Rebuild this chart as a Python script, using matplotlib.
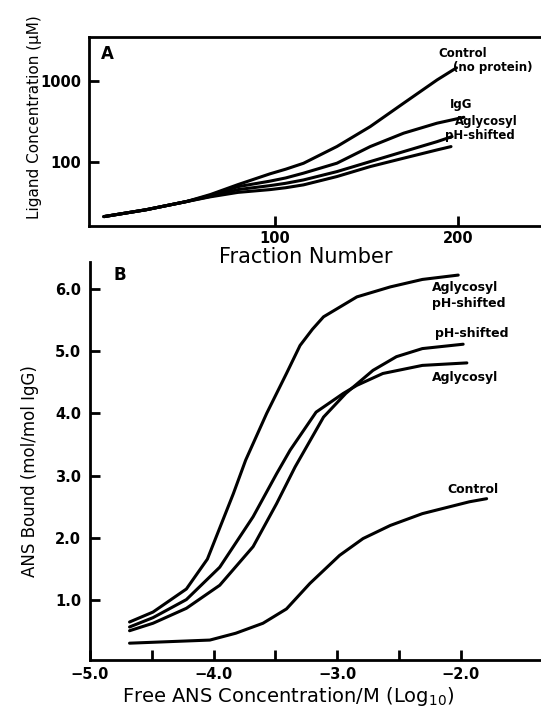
import numpy as np
import matplotlib.pyplot as plt

# Panel A: ligand concentration (uM, log) vs fraction number
frac_control = [7, 30, 52, 65, 80, 97.5, 106, 115.7, 133.9, 152, 170.2, 188.4, 199]
conc_control = [21.4, 26, 32.8, 40, 53, 72, 82, 97, 156, 274, 532, 1028, 1450]
frac_igg = [7, 30, 52, 65, 80, 97.5, 106, 115.7, 133.9, 152, 170.2, 188.4, 203]
conc_igg = [21.4, 26, 32.8, 39, 50, 58.5, 64, 73.3, 97.2, 155.6, 227.5, 302, 357]
frac_agly = [7, 30, 52, 65, 80, 97.5, 106, 115.7, 133.9, 152, 170.2, 188.4, 196.6]
conc_agly = [21.4, 26, 32.8, 38, 46, 51.5, 55, 60.5, 76.6, 101.7, 135, 179, 206.6]
frac_ph = [7, 30, 52, 65, 80, 97.5, 106, 115.7, 133.9, 152, 170.2, 188.4, 196]
conc_ph = [21.4, 26, 32.8, 37.5, 42.5, 46, 48.5, 52.6, 66.6, 88.3, 112, 141.6, 155.6]

# Panel B: ANS bound (mol/mol IgG) vs log10 free ANS concentration
logc_aph = [-4.68, -4.49, -4.22, -4.05, -3.95, -3.84, -3.74, -3.57, -3.41, -3.30, -3.20, -3.11, -2.84, -2.57, -2.31, -2.02]
bound_aph = [0.65, 0.81, 1.18, 1.66, 2.16, 2.71, 3.25, 4.00, 4.64, 5.09, 5.35, 5.55, 5.87, 6.03, 6.15, 6.22]
logc_agly = [-4.68, -4.49, -4.22, -3.95, -3.68, -3.49, -3.38, -3.17, -2.95, -2.84, -2.63, -2.31, -1.95]
bound_agly = [0.57, 0.72, 1.01, 1.53, 2.34, 3.03, 3.41, 4.02, 4.32, 4.45, 4.64, 4.77, 4.81]
logc_ph = [-4.68, -4.49, -4.22, -3.95, -3.68, -3.49, -3.34, -3.11, -2.93, -2.71, -2.52, -2.31, -1.98]
bound_ph = [0.51, 0.63, 0.87, 1.24, 1.86, 2.55, 3.14, 3.94, 4.32, 4.69, 4.91, 5.04, 5.11]
logc_ctl = [-4.68, -4.03, -3.82, -3.60, -3.41, -3.22, -2.98, -2.79, -2.57, -2.31, -1.93, -1.79]
bound_ctl = [0.31, 0.36, 0.47, 0.63, 0.86, 1.27, 1.72, 1.99, 2.20, 2.39, 2.58, 2.63]

W, H = 541, 714
def fx(px):
    return px / W
def fy(py):
    return 1 - py / H

plt.rcParams['font.family'] = ['DejaVu Sans']
fig = plt.figure(figsize=(W / 100, H / 100), dpi=100)
lw = 2.2

# ---- Panel A
axA = fig.add_axes([fx(89), fy(226), 1 - fx(89), (226 - 36.7) / H])
for xs, ys in [(frac_control, conc_control), (frac_igg, conc_igg),
               (frac_agly, conc_agly), (frac_ph, conc_ph)]:
    axA.plot(xs, ys, color='black', lw=lw, solid_joinstyle='round', solid_capstyle='round')
axA.set_yscale('log')
axA.set_xlim(-1.1, 245)
axA.set_ylim(16.4, 3500)
axA.set_xticks([100, 200])
axA.set_xticklabels(['100', '200'])
axA.set_yticks([100, 1000])
axA.set_yticklabels(['100', '1000'])
axA.minorticks_off()
axA.tick_params(direction='in', length=7, width=2, labelsize=10.5)
axA.tick_params(axis='y', pad=5.8)
axA.tick_params(axis='x', pad=3.5)
for lab in axA.get_xticklabels() + axA.get_yticklabels():
    lab.set_fontweight('bold')
for s in ['left', 'bottom', 'top']:
    axA.spines[s].set_linewidth(2)
axA.spines['right'].set_visible(False)

axA.text(189, 2150, 'Control', fontsize=8.5, fontweight='bold', va='center')
axA.text(197, 1450, '(no protein)', fontsize=8.5, fontweight='bold', va='center')
axA.text(195.6, 507, 'IgG', fontsize=8.5, fontweight='bold', va='center')
axA.text(198, 313, 'Aglycosyl', fontsize=8.5, fontweight='bold', va='center')
axA.text(193, 211, 'pH-shifted', fontsize=8.5, fontweight='bold', va='center')

fig.text(fx(107), fy(54), 'A', fontsize=12, fontweight='bold', ha='center', va='center')
fig.text(fx(306), fy(257), 'Fraction Number', fontsize=15, ha='center', va='center')
fig.text(fx(35), fy(117), 'Ligand Concentration (\u03bcM)', fontsize=11, rotation=90,
         ha='center', va='center')

# ---- Panel B
axB = fig.add_axes([fx(90), fy(660), 1 - fx(90), (660 - 262) / H])
for xs, ys in [(logc_aph, bound_aph), (logc_agly, bound_agly),
               (logc_ph, bound_ph), (logc_ctl, bound_ctl)]:
    axB.plot(xs, ys, color='black', lw=lw, solid_joinstyle='round', solid_capstyle='round')
axB.set_xlim(-5.0, -1.35)
axB.set_ylim(0.04, 6.43)
axB.set_xticks([-5.0, -4.0, -3.0, -2.0])
axB.set_xticklabels(['\u22125.0', '\u22124.0', '\u22123.0', '\u22122.0'])
axB.set_xticks([-4.5, -3.5, -2.5], minor=True)
axB.set_yticks([1, 2, 3, 4, 5, 6])
axB.set_yticklabels(['1.0', '2.0', '3.0', '4.0', '5.0', '6.0'])
axB.tick_params(which='both', direction='in', length=7, width=2, labelsize=10.5)
axB.tick_params(axis='y', pad=6.5)
axB.tick_params(axis='x', pad=5)
for lab in axB.get_xticklabels() + axB.get_yticklabels():
    lab.set_fontweight('bold')
for s in ['left', 'bottom']:
    axB.spines[s].set_linewidth(2)
for s in ['top', 'right']:
    axB.spines[s].set_visible(False)

axB.text(-2.23, 6.02, 'Aglycosyl', fontsize=9, fontweight='bold', va='center')
axB.text(-2.23, 5.77, 'pH-shifted', fontsize=9, fontweight='bold', va='center')
axB.text(-2.21, 5.29, 'pH-shifted', fontsize=9, fontweight='bold', va='center')
axB.text(-2.23, 4.58, 'Aglycosyl', fontsize=9, fontweight='bold', va='center')
axB.text(-2.11, 2.77, 'Control', fontsize=9, fontweight='bold', va='center')

fig.text(fx(120), fy(275), 'B', fontsize=12, fontweight='bold', ha='center', va='center')
fig.text(fx(288), fy(696), 'Free ANS Concentration/M (Log$_{10}$)', fontsize=14,
         ha='center', va='center')
fig.text(fx(30), fy(471), 'ANS Bound (mol/mol IgG)', fontsize=12, rotation=90,
         ha='center', va='center')

fig.savefig('out.png', dpi=100)
